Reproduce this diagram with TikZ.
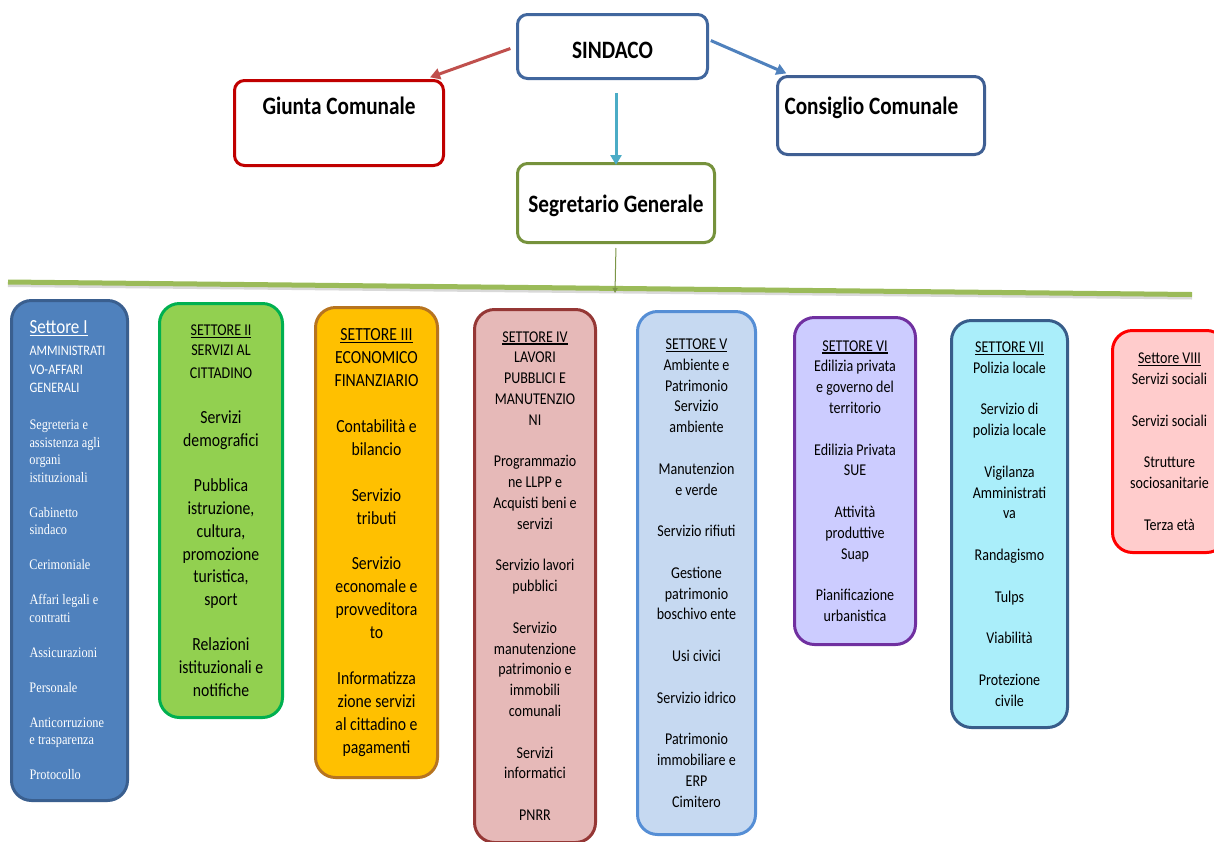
\documentclass[tikz,border=0pt]{standalone}
\usepackage{fontspec}
\setmainfont{Carlito}[FakeStretch=0.85]
\newfontfamily\oldserif{Liberation Serif}[FakeStretch=0.85]
\usetikzlibrary{arrows.meta}

\definecolor{sindacoblue}{HTML}{41679E}
\definecolor{giuntared}{HTML}{C00000}
\definecolor{consigliblue}{HTML}{3F5F93}
\definecolor{segrgreen}{HTML}{76923C}
\definecolor{arrowred}{HTML}{C0504D}
\definecolor{arrowblue}{HTML}{4F81BD}
\definecolor{arrowcyan}{HTML}{4BACC6}
\definecolor{bargreen}{HTML}{9BBB59}
\definecolor{fillI}{HTML}{4F81BD}    \definecolor{lineI}{HTML}{3A5F8F}
\definecolor{fillII}{HTML}{92D050}   \definecolor{lineII}{HTML}{00B050}
\definecolor{fillIII}{HTML}{FFC000}  \definecolor{lineIII}{HTML}{B7741F}
\definecolor{fillIV}{HTML}{E6B9B8}   \definecolor{lineIV}{HTML}{953735}
\definecolor{fillV}{HTML}{C6D9F1}    \definecolor{lineV}{HTML}{558ED5}
\definecolor{fillVI}{HTML}{CCCCFF}   \definecolor{lineVI}{HTML}{7030A0}
\definecolor{fillVII}{HTML}{AAEEFA}  \definecolor{lineVII}{HTML}{385D8A}
\definecolor{fillVIII}{HTML}{FFCCCC} \definecolor{lineVIII}{HTML}{FF0000}

% underline and blank line
\newcommand{\ulin}[1]{\sbox0{#1}\rlap{\usebox0}\rule[-2.5pt]{\wd0}{1.2pt}}
\newcommand{\sk}{\\[\baselineskip]}

\tikzset{
  topbox/.style={draw, line width=3pt, rounded corners=10pt, anchor=north west,
    inner sep=0pt, font=\bfseries\fontsize{25}{30}\selectfont},
  settore/.style={draw, line width=3pt, rounded corners=20pt, anchor=north west,
    inner xsep=3pt, inner ysep=0pt, align=flush center,
    font=\fontsize{16.5}{20.8}\selectfont},
  arr/.style={->, line width=3pt},
}

\begin{document}
\begin{tikzpicture}[x=1pt, y=-1pt, >={Triangle[length=10pt,width=11pt]}]

\useasboundingbox[fill=white] (0,0) rectangle (1214,841);

% vertici
\node [topbox, draw=sindacoblue, minimum width=190pt, text height=44pt, text depth=20pt] (sindaco) at (516,13) {SINDACO};
\node [topbox, draw=giuntared, minimum width=209pt, text height=34pt, text depth=51pt] (giunta) at (233,79) {Giunta Comunale};
\node [topbox, draw=consigliblue, inner xsep=7pt, text width=193pt, align=flush left, text height=38pt, text depth=40pt] (consiglio) at (776,75) {Consiglio Comunale};
\node [topbox, draw=segrgreen, minimum width=197pt, text height=49pt, text depth=30pt] (segretario) at (516,162) {Segretario Generale};

\draw [arr, arrowred, shorten <=6pt, shorten >=5pt] (sindaco.west) -- (giunta.27);
\draw [arr, arrowblue, shorten <=2pt, shorten >=4pt] (sindaco.4) -- (consiglio.156);
\draw [arr, arrowcyan, shorten <=13pt, shorten >=-3pt] (segretario.north |- sindaco.south) -- (segretario.north);

% barra
\coordinate (bar-w) at (8,282);
\coordinate (bar-e) at (1192,294.5);
\coordinate (bar-mid) at (615,293);
\draw [gray!30, line width=4pt, transform canvas={yshift=-3pt}] (bar-w) -- (bar-e);
\draw [bargreen, line width=5pt] (bar-w) -- (bar-e);
\draw [-{Triangle[length=5pt,width=5pt]}, bargreen!80!black, line width=1pt, shorten <=4pt] (segretario.south) -- (bar-mid);

% settori
\node [settore, draw=lineI, fill=fillI, text=white, align=flush left, inner xsep=18pt, text width=80pt,
  minimum width=116pt, minimum height=500pt, font=\fontsize{14.5}{17.5}\selectfont] (settore-1) at (10,299)
  {{\fontsize{20}{24}\selectfont\ulin{Settore I}}\\[4.5pt]
   AMMINISTRATI\\[1pt]VO-AFFARI\\[1pt]GENERALI\\[19.5pt]
   \oldserif Segreteria e\\assistenza agli\\organi\\istituzionali\sk
   Gabinetto\\sindaco\sk
   Cerimoniale\sk
   Affari legali e\\contratti\sk
   Assicurazioni\sk
   Personale\sk
   Anticorruzione\\e trasparenza\sk
   Protocollo};

\node [settore, draw=lineII, fill=fillII, text width=117pt, minimum width=123pt, minimum height=414pt,
  font=\fontsize{18.5}{22.7}\selectfont] (settore-2) at (158,302)
  {{\fontsize{16.5}{20.5}\selectfont\ulin{SETTORE II}\\SERVIZI AL\\CITTADINO}\sk
   Servizi\\demografici\sk
   Pubblica\\istruzione,\\cultura,\\promozione\\turistica,\\sport\sk
   Relazioni\\istituzionali e\\notifiche};

\node [settore, draw=lineIII, fill=fillIII, text width=116pt, minimum width=122pt, minimum height=470pt,
  font=\fontsize{18.5}{22.9}\selectfont] (settore-3) at (314,306)
  {\ulin{SETTORE III}\\ECONOMICO\\FINANZIARIO\sk
   Contabilità e\\bilancio\sk
   Servizio\\tributi\sk
   Servizio\\economale e\\provveditora\\to\sk
   Informatizza\\zione servizi\\al cittadino e\\pagamenti};

\node [settore, draw=lineIV, fill=fillIV, text width=115pt, minimum width=121pt, minimum height=533pt] (settore-4) at (473,308)
  {\ulin{SETTORE IV}\\LAVORI\\PUBBLICI E\\MANUTENZIO\\NI\sk
   Programmazio\\ne LLPP e\\Acquisti beni e\\servizi\sk
   Servizio lavori\\pubblici\sk
   Servizio\\manutenzione\\patrimonio e\\immobili\\comunali\sk
   Servizi\\informatici\sk
   PNRR};

\node [settore, draw=lineV, fill=fillV, text width=112pt, minimum width=118pt, minimum height=523pt] (settore-5) at (636,310)
  {\ulin{SETTORE V}\\Ambiente e\\Patrimonio\\Servizio\\ambiente\sk
   Manutenzion\\e verde\sk
   Servizio rifiuti\sk
   Gestione\\patrimonio\\boschivo ente\sk
   Usi civici\sk
   Servizio idrico\sk
   Patrimonio\\immobiliare e\\ERP\\Cimitero};

\node [settore, draw=lineVI, fill=fillVI, text width=115pt, minimum width=121pt, minimum height=327pt] (settore-6) at (793,316)
  {\ulin{SETTORE VI}\\Edilizia privata\\e governo del\\territorio\sk
   Edilizia Privata\\SUE\sk
   Attività\\produttive\\Suap\sk
   Pianificazione\\urbanistica};

\node [settore, draw=lineVII, fill=fillVII, text width=110pt, minimum width=116pt, minimum height=407pt] (settore-7) at (950,319)
  {\ulin{SETTORE VII}\\Polizia locale\sk
   Servizio di\\polizia locale\sk
   Vigilanza\\Amministrati\\va\sk
   Randagismo\sk
   Tulps\sk
   Viabilità\sk
   Protezione\\civile};

\node [settore, draw=lineVIII, fill=fillVIII, text width=108pt, minimum width=114pt, minimum height=222pt] (settore-8) at (1111,329)
  {\ulin{Settore VIII}\\Servizi sociali\sk
   Servizi sociali\sk
   Strutture\\sociosanitarie\sk
   Terza età};

\end{tikzpicture}
\end{document}
